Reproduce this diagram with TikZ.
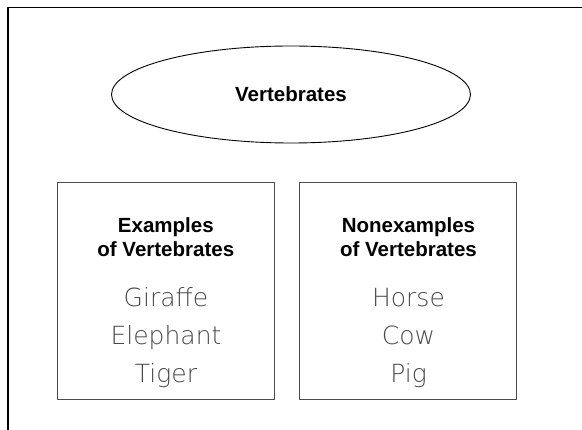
\documentclass[tikz,border=0pt]{standalone}
\usepackage{fontspec}
\setmainfont{Liberation Sans}
\newfontfamily\handfont{DejaVu Sans ExtraLight}
\usetikzlibrary{shapes.geometric}
\tikzset{
  heading/.style={font=\fontsize{20.5}{24}\selectfont\bfseries, anchor=base, inner sep=0pt},
  animal/.style={font=\handfont\fontsize{25}{30}\selectfont, text=black!72, anchor=base, inner sep=0pt},
  boxframe/.style={draw=black!70, line width=1pt, minimum width=217pt, minimum height=217pt, inner sep=0pt},
}
\begin{document}
\begin{tikzpicture}[x=1pt,y=-1pt,line join=round,line cap=round]
\useasboundingbox (0,0) rectangle (582,430);
% outer frame, cut by the page
\draw[line width=1.4pt] (8,440) -- (8,7.5) -- (590,7.5);
\node[draw, ellipse, line width=0.9pt, minimum width=359pt, minimum height=97pt, inner sep=0pt,
      font=\fontsize{20.5}{24}\selectfont\bfseries] (vert) at (291,94.5) {Vertebrates};
\node[boxframe] (exbox) at (165.8,291.4) {};
\node[boxframe] (nonbox) at (407.8,291.4) {};
% headings
\node[heading] (exhead1) at (165.8,233) {Examples};
\node[heading] (exhead2) at (165.8,257) {of Vertebrates};
\node[heading] (nonhead1) at (408.5,233) {Nonexamples};
\node[heading] (nonhead2) at (408.5,257) {of Vertebrates};
% animals
\foreach \t [count=\i] in {Giraffe,Elephant,Tiger}{\node[animal] (ex\i) at (166,{307+38*(\i-1)}) {\t};}
\foreach \t [count=\i] in {Horse,Cow,Pig}{\node[animal] (non\i) at (408.5,{307+38*(\i-1)}) {\t};}
\end{tikzpicture}
\end{document}
